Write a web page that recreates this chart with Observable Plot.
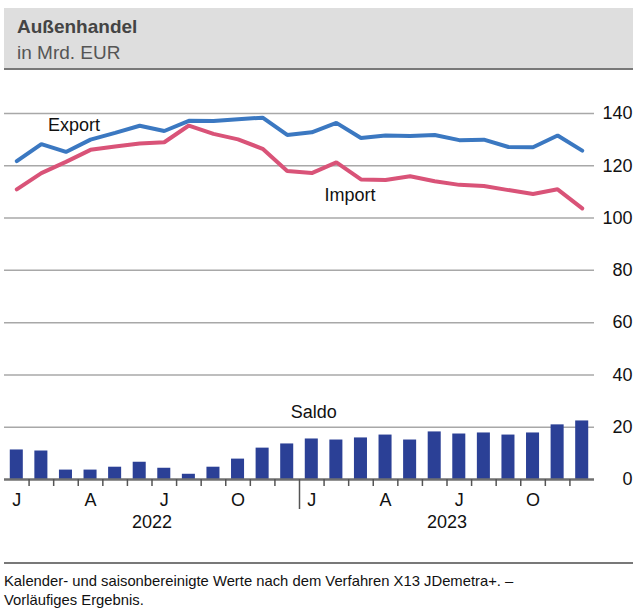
<!DOCTYPE html>
<html><head><meta charset="utf-8">
<script src="https://cdn.jsdelivr.net/npm/d3@7"></script>
<script src="https://cdn.jsdelivr.net/npm/@observablehq/plot@0.6"></script>
<style>
body{margin:0;font-family:"Liberation Sans",Arial,sans-serif;background:#fff;}
#wrap{position:relative;width:633px;height:615px;overflow:hidden;background:#fff}
#hdr{position:absolute;left:4px;top:8px;width:629px;height:60px;background:#dedede;border-bottom:2px solid #787878;}
#title{position:absolute;left:17px;top:16px;font-size:19px;font-weight:bold;color:#444;white-space:nowrap}
#sub{position:absolute;left:17px;top:42px;font-size:19px;color:#555;white-space:nowrap}
#chart{position:absolute;left:0;top:72px;}
#rule{position:absolute;left:4px;top:562px;width:629px;height:2px;background:#787878;}
#note{position:absolute;left:4px;top:572px;font-size:14.8px;line-height:19px;color:#111;white-space:nowrap}
</style></head><body>
<div id="wrap">
 <div id="hdr"></div>
 <div id="title">Außenhandel</div>
 <div id="sub">in Mrd. EUR</div>
 <div id="chart"></div>
 <div id="rule"></div>
 <div id="note">Kalender- und saisonbereinigte Werte nach dem Verfahren X13 JDemetra+. –<br>Vorläufiges Ergebnis.</div>
</div>
<script>
const months = ["2022-01","2022-02","2022-03","2022-04","2022-05","2022-06","2022-07","2022-08","2022-09","2022-10","2022-11","2022-12",
                "2023-01","2023-02","2023-03","2023-04","2023-05","2023-06","2023-07","2023-08","2023-09","2023-10","2023-11","2023-12"];
const exportValues = [121.8,128.3,125.3,130.0,132.6,135.3,133.3,137.2,137.1,137.8,138.4,131.8,
                      132.8,136.4,130.6,131.6,131.4,131.8,129.8,130.0,127.2,127.1,131.6,125.8];
const importValues = [111.0,117.2,121.5,126.1,127.4,128.5,129.0,135.4,132.2,130.1,126.5,118.0,
                      117.2,121.3,114.8,114.6,116.0,114.1,112.7,112.3,110.7,109.2,111.0,103.7];
const saldoValues  = [11.3,10.9,3.6,3.6,4.7,6.6,4.3,2.0,4.7,7.8,12.0,13.6,
                      15.5,15.1,15.9,17.0,15.1,18.2,17.4,17.8,17.0,17.8,20.9,22.4];
const yTicks = [0,20,40,60,80,100,120,140];
const monthTicks = ["2022-01","2022-04","2022-07","2022-10","2023-01","2023-04","2023-07","2023-10"];
const monthTickLabels = ["J","A","J","O","J","A","J","O"];
const years = ["2022","2023"];
const yearStartMonth = ["2022-07","2023-07"];
const labelNames = ["Export","Import","Saldo"];
const labelMonths = ["2022-03","2023-03","2023-01"];
const labelValues = [135.4,108.6,25.6];
const labelShift = [8,-11,2];

const data = months.map((m,i)=>({month:m, export:exportValues[i], import:importValues[i], saldo:saldoValues[i]}));
const seriesLabels = labelNames.map((n,i)=>({name:n, month:labelMonths[i], value:labelValues[i], shift:labelShift[i]}));

const W=633, H=490, mt=41, mb=83, ml=4, mr=39;
const ppu = (H-mb-mt)/140;
const step = (W-mr-ml)/months.length;
const boundaries = months.slice(1).filter(m=>!m.endsWith("-01"));
const yearBounds = months.slice(1).filter(m=>m.endsWith("-01"));
const font = '"Liberation Sans", Arial, sans-serif';

const chart = Plot.plot({
  width:W, height:H, marginTop:mt, marginBottom:mb, marginLeft:ml, marginRight:mr,
  x:{type:"band", domain:months, paddingInner:0.47, paddingOuter:0.235, round:false, axis:null},
  y:{domain:[0,140], axis:null},
  style:{fontFamily:font, fontSize:"18px", color:"#111", background:"transparent", overflow:"visible"},
  marks:[
    Plot.ruleY(yTicks.filter(d=>d>0), {y:d=>d, stroke:"#a8a8a8", strokeWidth:1.5}),
    Plot.barY(data, {x:"month", y:"saldo", fill:"#2b4096"}),
    Plot.ruleY([0], {y:d=>d, stroke:"#707070", strokeWidth:2.5}),
    Plot.ruleX(boundaries, {x:d=>d, y1:0, y2:-7/ppu, dx:-step/2, stroke:"#555", strokeWidth:1.5}),
    Plot.ruleX(yearBounds, {x:d=>d, y1:0, y2:-30/ppu, dx:-step/2, stroke:"#555", strokeWidth:1.5}),
    Plot.line(data, {x:"month", y:"import", stroke:"#d95378", strokeWidth:4, strokeLinejoin:"miter"}),
    Plot.line(data, {x:"month", y:"export", stroke:"#3b78c1", strokeWidth:4, strokeLinejoin:"miter"}),
    ...seriesLabels.map(l => Plot.text([l], {x:"month", y:"value", text:"name", dx:l.shift, fontSize:18, fill:"#111"})),
    Plot.text(monthTicks, {x:d=>d, y:0, text:(d,i)=>monthTickLabels[i], dy:21, fontSize:18, fill:"#111"}),
    Plot.text(years, {x:(d,i)=>yearStartMonth[i], y:0, text:d=>d, dx:-step/2, dy:43, fontSize:18, fill:"#111"}),
    Plot.text(yTicks, {y:d=>d, text:d=>String(d), frameAnchor:"right", textAnchor:"end", dx:38, fontSize:18, fill:"#111"})
  ]
});
document.getElementById("chart").appendChild(chart);
</script>
</body></html>
